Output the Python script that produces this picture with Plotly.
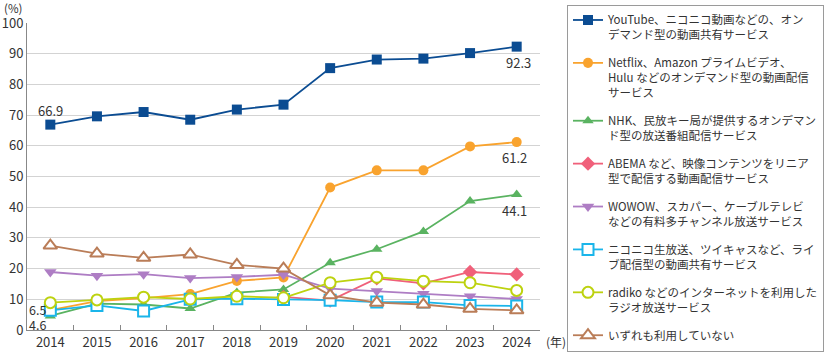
import plotly.graph_objects as go

years = ["2014", "2015", "2016", "2017", "2018", "2019", "2020", "2021", "2022", "2023", "2024"]

youtube = [66.9, 69.6, 71.0, 68.5, 71.8, 73.4, 85.3, 88.1, 88.4, 90.2, 92.3]
netflix = [6.5, 9.4, 10.4, 11.7, 16.0, 17.1, 46.4, 52.0, 52.0, 59.8, 61.2]
nhk = [4.6, 8.6, 8.3, 7.0, 12.2, 13.2, 21.9, 26.3, 32.1, 42.0, 44.1]
abema = [None, None, None, None, None, 10.8, 9.6, 16.8, 15.2, 18.9, 18.1]
wowow = [18.9, 17.7, 18.2, 16.9, 17.3, 18.0, 13.5, 12.7, 11.8, 11.0, 10.1]
nico_live = [6.4, 8.0, 6.2, 10.0, 10.2, 9.9, 9.7, 9.1, 9.1, 8.0, 7.8]
radiko = [8.9, 9.8, 10.7, 10.1, 11.0, 10.5, 15.4, 17.2, 15.9, 15.4, 12.9]
none_used = [27.5, 24.9, 23.5, 24.6, 21.2, 20.0, 11.3, 8.9, 8.3, 6.9, 6.4]

names = [
    "YouTube、ニコニコ動画などの、オン<br>デマンド型の動画共有サービス",
    "Netflix、Amazon プライムビデオ、<br>Hulu などのオンデマンド型の動画配信<br>サービス",
    "NHK、民放キー局が提供するオンデマン<br>ド型の放送番組配信サービス",
    "ABEMA など、映像コンテンツをリニア<br>型で配信する動画配信サービス",
    "WOWOW、スカパー、ケーブルテレビ<br>などの有料多チャンネル放送サービス",
    "ニコニコ生放送、ツイキャスなど、ライ<br>ブ配信型の動画共有サービス",
    "radiko などのインターネットを利用した<br>ラジオ放送サービス",
    "いずれも利用していない",
]

series = [youtube, netflix, nhk, abema, wowow, nico_live, radiko, none_used]
colors = ["#0B4C92", "#F9A32E", "#5AB361", "#F0607A", "#AE7DC4", "#1AB5EA", "#BDD20F", "#BA7D58"]
symbols = ["square", "circle", "triangle-up", "diamond", "triangle-down",
           "square-open", "circle-open", "triangle-up-open"]
sizes = [10, 10, 10, 11, 11, 11, 11, 12]

FONT = "Noto Sans CJK JP"
TXT = "#333333"

fig = go.Figure()
for i, (vals, nm, c, s, sz) in enumerate(zip(series, names, colors, symbols, sizes)):
    open_marker = s.endswith("-open")
    fig.add_trace(go.Scatter(
        x=years, y=vals, name=nm, mode="lines+markers",
        line=dict(color=c, width=1.8),
        marker=dict(symbol=s.replace("-open", "") if open_marker else s, size=sz,
                    color="white" if open_marker else c,
                    line=dict(color=c, width=2 if open_marker else 0)),
        legendgroup=f"g{i}",
        connectgaps=False,
    ))

def lab(idx, vals, dx, dy, size=13):
    v = vals[idx]
    fig.add_annotation(x=idx % len(years), y=v, text=f"{v:.1f}", showarrow=False,
                       xshift=dx, yshift=dy,
                       font=dict(family=FONT, size=size, color=TXT))

last = len(years) - 1
lab(0, youtube, 0, 14)
lab(last, youtube, 2, -16)
lab(last, netflix, -2, -15)
lab(last, nhk, -2, -16)
lab(0, netflix, -13, 1, 12.5)
lab(0, nhk, -13, -9, 12.5)

fig.add_annotation(xref="paper", yref="paper", x=0, y=1, xanchor="center", yanchor="middle",
                   xshift=-14, yshift=15, text="(%)", showarrow=False,
                   font=dict(family=FONT, size=11.5, color=TXT))
fig.add_annotation(xref="paper", yref="paper", x=1, y=0, xanchor="left", yanchor="middle",
                   xshift=4, yshift=-11, text="(年)", showarrow=False,
                   font=dict(family=FONT, size=12, color=TXT))

fig.update_layout(
    width=832, height=352,
    margin=dict(l=27, r=292, t=23, b=22, autoexpand=False),
    paper_bgcolor="white", plot_bgcolor="white",
    font=dict(family=FONT, size=13, color=TXT),
    showlegend=True,
    legend=dict(
        xref="container", yref="container",
        x=567 / 832, y=1 - 5 / 352, xanchor="left", yanchor="top",
        bordercolor="#9a9a9a", borderwidth=1,
        font=dict(family=FONT, size=11.5, color=TXT),
        tracegroupgap=10, traceorder="grouped", valign="top",
        itemsizing="trace", maxheight=350,
    ),
    xaxis=dict(
        type="category", tickson="boundaries", ticks="inside", ticklen=5,
        tickcolor="#888888", showline=True, linecolor="#888888", linewidth=1,
        showgrid=False, tickfont=dict(size=13), range=[-0.5, 10.5], automargin=False,
    ),
    yaxis=dict(
        range=[0, 100], dtick=10, showgrid=True, gridcolor="#d3d3d3", gridwidth=1,
        showline=True, linecolor="#888888", linewidth=1, ticks="",
        zeroline=False, tickfont=dict(size=13), automargin=False,
    ),
)

fig.write_html("out.html")
